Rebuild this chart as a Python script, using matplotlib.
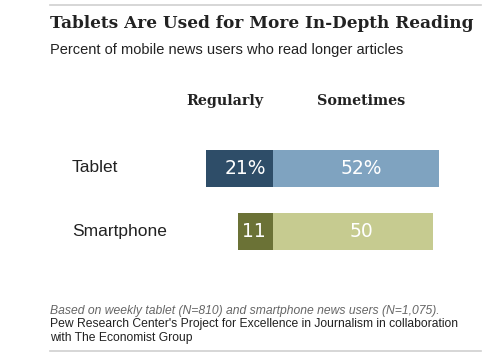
import matplotlib.pyplot as plt

# ── Data ──────────────────────────────────────────────────────────────────────
devices   = ["Tablet", "Smartphone"]
regularly = [21, 11]
sometimes = [52, 50]
reg_labels  = ["21%", "11"]
some_labels = ["52%", "50"]

# ── Colours ───────────────────────────────────────────────────────────────────
C_REG  = ["#2e4d68", "#6b7236"]
C_SOME = ["#7fa3c0", "#c6cb90"]
C_RULE = "#cfcfcf"

# ── Figure: one axes over the whole canvas, x in percent, y in pixels ────────
W, H = 500, 362
PX_PER_PCT = 3.2
X0 = 273  # pixel position of the split between the two segments

fig = plt.figure(figsize=(W / 100, H / 100), dpi=100, facecolor="white")
ax = fig.add_axes([0, 0, 1, 1])
ax.set_xlim(-X0 / PX_PER_PCT, (W - X0) / PX_PER_PCT)
ax.set_ylim(H, 0)
ax.set_axis_off()

def px(x):
    return (x - X0) / PX_PER_PCT

# rules top and bottom
ax.plot([px(50), px(481)], [5, 5], color=C_RULE, lw=1.2)
ax.plot([px(50), px(481)], [351, 351], color=C_RULE, lw=1.2)

# title + subtitle
ax.text(px(50), 24, "Tablets Are Used for More In-Depth Reading",
        family="DejaVu Serif", fontweight="bold", fontsize=12.2,
        color="#222222", ha="left", va="center")
ax.text(px(50), 50, "Percent of mobile news users who read longer articles",
        family="Liberation Sans", fontsize=10.5, color="#222222",
        ha="left", va="center")

# column headers
ax.text(px(225), 101, "Regularly", family="DejaVu Serif", fontweight="bold",
        fontsize=10.3, color="#222222", ha="center", va="center")
ax.text(px(361), 101, "Sometimes", family="DejaVu Serif", fontweight="bold",
        fontsize=10.3, color="#222222", ha="center", va="center")

# bars
y_pos = [168, 231.5]
ax.barh(y_pos, [-v for v in regularly], height=37, left=0, color=C_REG,
        edgecolor="none")
ax.barh(y_pos, sometimes, height=37, left=0, color=C_SOME, edgecolor="none")

for y, name, rl, sl in zip(y_pos, devices, reg_labels, some_labels):
    ax.text(px(72), y, name, family="Liberation Sans", fontsize=12.5,
            color="#222222", ha="left", va="center")
    ax.text(px(266), y, rl, family="DejaVu Sans", fontsize=13.5,
            color="white", ha="right", va="center")
    ax.text(px(361), y, sl, family="DejaVu Sans", fontsize=13.5,
            color="white", ha="center", va="center")

# notes
ax.text(px(50), 311,
        "Based on weekly tablet (N=810) and smartphone news users (N=1,075).",
        family="Liberation Sans", style="italic", fontsize=8.7,
        color="#666666", ha="left", va="center")
ax.text(px(50), 324,
        "Pew Research Center's Project for Excellence in Journalism in collaboration",
        family="Liberation Sans", fontsize=8.7, color="#222222",
        ha="left", va="center")
ax.text(px(50), 338, "with The Economist Group",
        family="Liberation Sans", fontsize=8.7, color="#222222",
        ha="left", va="center")

fig.savefig("out.png", dpi=100, facecolor="white")
